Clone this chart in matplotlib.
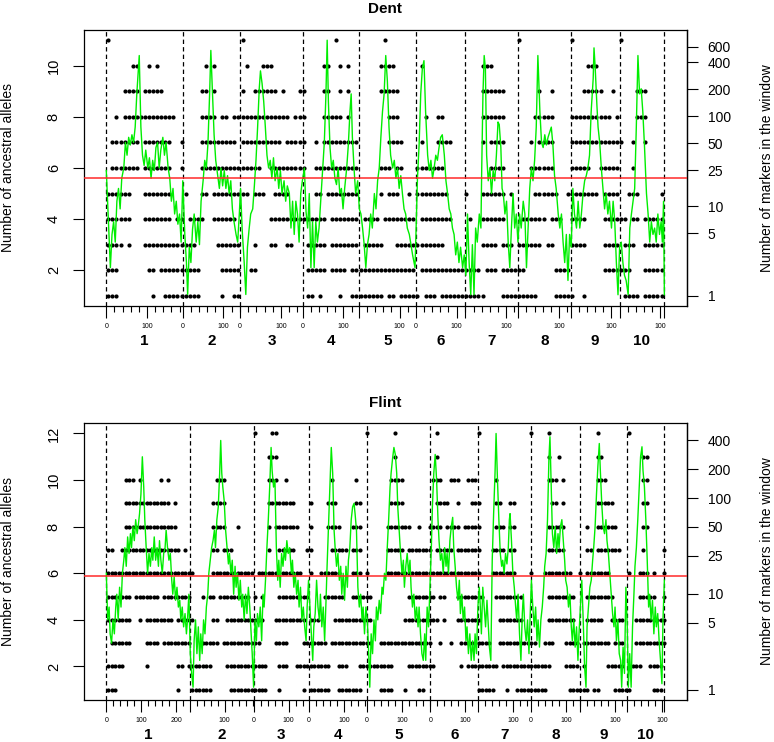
import numpy as np
import matplotlib
matplotlib.use('Agg')
from matplotlib import pyplot as plt

plt.rcParams['font.family'] = ['Liberation Sans', 'DejaVu Sans']

#--------------------------------------------------------------------------------------------------
# chromosome lengths (axis units), labels and thresholds
dent_chr_len  = [188, 141, 154, 138, 140, 122, 130, 129, 120, 110]
flint_chr_len = [238, 183, 158, 166, 181, 137, 151, 141, 133, 107]
dent_zero_labels  = [1, 2, 3, 4, 6]
flint_zero_labels = [1, 3, 4, 5, 6, 8]
dent_threshold  = 5.6
flint_threshold = 5.9
dent_max_markers  = 709
flint_max_markers = 473
dent_marker_ticks  = [1, 5, 10, 25, 50, 100, 200, 400, 600]
flint_marker_ticks = [1, 5, 10, 25, 50, 100, 200, 400]

# occupied 10-unit bins for each number of ancestral alleles (row 0 -> 1 allele)
dent_dot_rows = [
    "0-2 11 14-22 28 31-32 49-50 52 57 60-67 69-70 72-76 78-80 82-92 97-105 110-114 117 127-130 132-136",
    "0-2 10-11 13-22 28-32 35-36 49-53 55-58 60-75 77-91 93-95 97-102 110-113 122-128 132-136",
    "0-3 5 9-21 27-32 36 40-41 44-45 49-53 55-61 63-67 71-82 92-95 97-99 101-106 108-109 114-117 122-125 127-129 132-136",
    "0-5 9-15 17-18 20-23 26-31 40-53 55-61 63-66 68-75 77-84 89 92-97 102-107 109-111 114-117 122-127 129-130 132-136",
    "0-5 9-15 19 23-24 26-34 36-38 41-44 51-52 54-61 67 69-71 74 76-83 88 92-97 99 105-110 113-120 122-125 128-130 136",
    "1-7 9-15 18 23-37 40-48 51-61 67-69 71-72 76-82 94-97 104-109 114-118 121-125 129",
    "1-7 9-15 18 23-31 33-42 44-48 51 53-61 69-72 77 81-84 92 94-97 104 106-109 114-126 129 132",
    "2 4-16 23-26 28-29 31-44 46-48 53-57 59 69-71 78 81-82 92-97 105-109 114-123 125 130-132",
    "4-7 9-13 23-24 26 33 36-41 43 47-48 53-54 57 59 67-71 92-97 106 109 117-121 124 130-132",
    "6-7 10 12 24 26 34 38-40 53-54 57 59 67-70 77 92-94 118-120",
    "0 33 56 68 101 114 126",
]
flint_dot_rows = [
    "0-2 20 24-29 35-45 49 56 58-63 66-72 78-81 85 89-90 106-110 114 117-125 132-137 139-140 145-149 156-158",
    "0-4 11 20-21 23-29 34-45 49-51 54-63 66-68 72-81 86-93 101 103-111 113-126 131-134 136 143-147 150-152 155-158",
    "1-6 11-14 16-23 27-31 33-43 48-51 56-62 64-75 78-92 95 98 101-109 112-122 125-127 131-134 136-143 145-147 151-159",
    "0-6 9 11-18 20-24 30-31 34-44 48-56 58-60 65-75 85-94 96 100-106 112-118 126-133 137-141 144-147 151-159",
    "0-6 8-14 16-23 27 29-30 32-40 42 44 49-57 62-67 70-75 86-93 95-96 100-107 111-118 126-133 137-144 152-156 159",
    "0-24 30-41 43-55 58 61-66 70-72 74 80-106 110-116 121 125-132 135 137-143 149 152-154 156 159",
    "0-1 4-20 22 30-31 33-35 46 49-53 57-58 64-68 70-72 80-84 86-92 94-98 100-106 110-113 115-116 126-130 137-138 140-146 153 159",
    "5-19 30-33 37 46 48-54 58 63-66 70-72 80-86 89 92-95 97-100 102-106 111-113 115-116 126-130 137 140-145 153-154",
    "5-17 19 30-33 46-53 58 63-65 71-72 81-84 94-97 100 104-106 111-112 115-116 127-128 130 140-144 153-154",
    "5-7 9 15 17 31-33 46-48 51 64 71 81-84 93-95 98-100 103-105 111 126-128 130 140-142 153-154",
    "46-48 82 94 126 129 140-141 153-154",
    "42 47-48 74 82 94 106 121 126 140 149",
]

# sliding window mean of ancestral alleles (position, value)
dent_window = [
    (0,5.9),(6,3.6),(10,2.1),(14,3.4),(18,3.9),(22,3.1),(26,4.7),(30,5.2),(34,4.4),(38,5.6),
    (43,6.0),(47,7.0),(51,6.5),(55,7.2),(59,6.9),(63,7.3),(67,7.0),(71,7.6),(75,8.9),(81,10.4),
    (85,7.6),(89,6.5),(93,6.1),(97,6.7),(102,6.0),(106,6.4),(110,5.6),(114,6.3),(118,5.9),(122,6.8),
    (126,7.0),(130,6.0),(134,6.7),(139,7.2),(143,6.5),(147,7.0),(152,6.0),(156,5.6),(160,4.7),(164,5.2),
    (168,4.2),(172,4.7),(176,3.8),(180,4.2),(184,3.1),(188,5.5),(193,3.4),(197,2.3),(200,1.05),(204,2.9),
    (208,2.3),(212,3.6),(216,4.2),(221,3.1),(225,3.9),(229,3.0),(233,4.7),(238,5.5),(242,6.3),(246,6.0),
    (250,7.0),(254,8.9),(257,10.6),(261,8.9),(265,7.3),(269,6.3),(274,5.7),(278,5.2),(282,6.0),(286,5.3),
    (290,5.9),(294,5.2),(298,5.7),(302,5.0),(306,5.5),(310,4.4),(314,3.9),(319,3.4),(323,3.1),(327,4.2),
    (330,5.2),(334,3.6),(339,2.3),(343,1.05),(347,2.9),(351,3.6),(355,4.2),(360,4.4),(364,5.3),(368,6.3),
    (372,7.6),(376,9.1),(379,9.8),(383,9.3),(387,8.6),(391,7.6),(395,6.5),(399,6.0),(403,6.3),(407,5.6),
    (411,6.4),(415,5.5),(420,6.0),(424,5.2),(428,5.9),(432,5.0),(437,5.5),(441,4.7),(445,5.3),
    (450,5.0),(454,3.65),(458,4.7),(462,3.4),(466,4.7),(470,4.2),(474,3.1),(478,5.0),(482,5.5),(487,6.0),
    (491,4.3),(495,3.65),(499,5.0),(503,2.1),(507,3.9),(511,2.1),(515,3.9),(519,3.1),(523,3.65),(527,4.7),
    (532,6.0),(536,7.0),(540,8.9),(543,11.0),(546,8.6),(550,6.8),(554,6.0),(558,6.3),(562,5.6),(566,5.35),
    (570,6.0),(574,5.0),(578,5.2),(582,4.4),(586,5.2),(591,6.0),(595,6.9),(599,8.2),(602,8.9),(605,7.2),
    (609,6.0),(613,5.0),(618,5.5),(622,4.4),(626,4.2),(630,3.65),(634,3.0),(638,2.1),(642,3.0),(646,3.4),
    (650,4.2),(654,3.65),(659,5.0),(663,4.4),(667,5.5),(671,6.0),(675,7.2),(679,8.2),(683,8.9),(687,10.4),
    (691,9.4),(695,7.6),(699,6.5),(704,6.0),(708,6.3),(712,5.6),(716,6.0),(720,5.2),(724,5.7),(728,5.0),
    (732,4.4),(736,4.2),(740,3.65),(745,3.4),(749,3.0),(753,2.6),(759,2.1),(765,5.6),(769,6.9),(773,8.9),
    (777,9.9),(781,10.2),(785,8.2),(790,6.5),(794,5.9),(798,6.3),(802,5.6),(806,6.0),(810,6.5),(814,6.3),
    (818,6.8),(822,7.2),(826,7.3),(831,6.5),(835,5.5),(839,5.0),(843,4.4),(847,4.2),(851,3.65),(855,3.4),
    (859,2.6),(863,3.1),(867,2.3),(871,2.9),(876,2.1),(880,2.6),(884,1.8),(888,4.2),(892,2.3),(896,1.04),
    (900,3.0),(904,1.04),(908,3.65),(912,3.1),(917,4.2),(921,3.65),
    (923,6.0),(926,8.9),(929,10.4),(932,9.9),(935,6.5),(939,5.5),(943,6.0),(947,5.0),(951,5.9),(955,5.5),
    (959,6.5),(963,7.8),(966,7.7),(970,6.8),(973,5.2),(976,5.0),(980,4.2),(984,4.7),(988,3.1),(992,2.1),
    (996,3.65),(1000,5.0),(1004,3.65),(1008,4.2),(1012,3.1),(1016,4.2),(1020,3.65),(1025,4.7),(1029,4.2),(1033,2.1),
    (1037,3.65),(1041,5.2),(1045,6.0),(1049,5.5),(1053,6.3),(1057,7.6),(1061,10.4),(1066,8.2),(1070,7.0),(1074,6.8),
    (1078,7.3),(1082,6.9),(1086,7.2),(1090,7.4),(1094,7.6),(1098,6.9),(1102,5.7),(1106,5.2),(1111,4.2),(1115,3.65),
    (1119,4.2),(1123,3.1),(1127,2.3),(1131,3.4),(1135,1.6),(1139,3.4),(1143,2.9),(1147,5.2),(1151,4.2),(1156,3.65),
    (1160,4.7),(1164,3.65),(1168,4.2),(1172,5.0),(1176,5.5),(1180,5.7),(1184,6.0),(1188,6.5),(1192,8.2),(1197,9.5),
    (1199,10.7),(1202,9.9),(1206,8.5),(1209,7.6),(1213,7.0),(1217,6.0),(1221,5.2),(1225,4.4),(1229,5.0),(1233,4.2),
    (1237,4.7),(1242,3.65),(1246,4.7),(1250,3.9),(1254,2.3),(1258,1.04),(1262,2.9),(1266,3.1),(1270,2.3),(1274,1.8),
    (1278,1.6),(1283,1.04),(1287,3.65),(1291,4.2),(1295,4.7),(1299,5.2),(1303,7.6),(1307,10.4),(1311,8.9),(1315,9.1),
    (1319,8.2),(1323,6.9),(1328,5.0),(1332,4.2),(1336,3.1),(1340,3.9),(1344,3.4),(1348,3.65),(1352,3.1),(1356,4.2),
    (1360,3.4),(1364,3.9),(1367,3.1),(1370,4.7),(1372,1.04),
]
flint_window = [
    (0,6.0),(4,4.0),(8,4.55),(11,3.4),(15,3.0),(19,4.0),(23,3.4),(27,4.55),(30,5.1),(34,4.0),
    (38,5.4),(42,4.55),(46,6.0),(50,6.56),(53,7.1),(57,6.3),(61,7.56),(65,6.85),(69,7.7),(72,7.1),
    (76,8.0),(80,7.4),(84,8.3),(88,7.7),(91,8.0),(95,8.56),(99,9.4),(103,11.0),(107,9.7),(110,8.3),
    (114,7.1),(118,6.0),(122,6.85),(126,6.3),(130,7.1),(133,6.56),(137,7.56),(141,6.56),(145,7.1),(149,6.3),
    (152,7.4),(156,6.56),(160,6.0),(164,6.85),(168,7.1),(171,7.85),(175,7.1),(179,6.56),(183,6.85),(187,5.7),
    (190,5.1),(194,5.84),(198,4.84),(202,5.4),(206,4.55),(210,4.84),(213,4.0),(217,4.55),(221,3.7),(225,4.27),
    (229,3.4),(232,4.0),(236,5.1),(240,2.55),(244,1.7),(248,1.11),(251,3.1),(255,4.0),(259,2.55),(263,3.7),
    (267,2.26),(270,3.4),(274,2.55),(278,4.0),(282,3.4),(286,4.55),(290,5.1),(293,6.0),(297,6.56),(301,7.1),
    (305,7.4),(309,7.85),(312,7.1),(316,8.3),(320,8.85),(324,10.3),(327,11.7),(330,10.3),(333,9.7),(337,9.1),
    (341,7.85),(345,7.1),(349,6.4),(352,6.85),(356,6.0),(360,6.56),(364,5.1),(368,6.3),(371,5.4),(375,6.0),
    (379,4.84),(383,5.7),(387,4.55),(390,5.1),(394,4.0),(398,5.1),(402,4.27),(406,5.4),(410,4.55),(413,3.7),
    (417,2.55),(421,1.11),(425,4.0),(429,3.1),(432,4.27),(436,3.7),(440,4.55),(444,3.1),(448,5.1),(451,4.55),
    (455,5.7),(459,7.1),(463,8.3),(467,9.7),(471,11.4),(474,10.4),(478,9.7),(482,10.0),(486,7.1),(490,5.7),
    (493,6.56),(497,5.4),(501,6.85),(505,6.3),(509,7.1),(512,6.56),(516,7.4),(520,6.85),(524,7.1),
    (529,6.0),(532,6.56),(536,5.4),(540,6.0),(544,5.1),(548,5.7),(551,4.55),(555,5.4),(559,4.0),(563,4.55),
    (567,3.7),(571,3.1),(574,4.55),(578,5.7),(582,4.55),(586,3.4),(590,2.26),(593,3.7),(597,4.27),(601,5.7),
    (605,4.55),(609,4.0),(612,5.1),(616,3.7),(620,4.55),(624,3.1),(628,4.84),(631,6.3),(635,8.0),(639,9.7),
    (643,11.4),(647,10.3),(651,7.85),(654,7.1),(658,6.3),(662,6.85),(666,5.7),(670,6.3),(673,5.1),(677,6.0),
    (681,4.84),(685,6.3),(689,5.4),(692,6.56),(696,7.1),(700,8.3),(704,8.85),(708,9.0),(711,8.56),(715,7.85),
    (719,5.4),(723,4.55),(727,5.1),(731,4.0),(734,4.55),(738,3.4),(742,4.55),(746,4.0),(750,2.55),(753,1.11),
    (757,3.4),(761,2.55),(765,4.0),(769,3.1),(772,4.55),(776,4.0),(780,4.84),(784,4.27),(788,5.4),(791,5.1),
    (795,6.0),(799,5.7),(803,7.1),(807,8.3),(811,9.7),(814,10.3),(818,10.9),(822,11.4),(826,11.1),(830,10.3),
    (833,8.85),(837,7.85),(841,6.85),(845,6.0),(849,6.56),(852,5.4),(856,6.3),(860,6.85),(864,6.0),(868,6.56),
    (871,5.4),(875,4.55),(879,5.1),(883,4.0),(887,4.55),(891,3.7),(894,4.55),(898,3.4),(902,2.55),(906,2.26),
    (910,3.4),(913,2.26),(917,4.55),(921,3.7),(925,5.4),(929,7.1),(932,8.85),(936,10.3),(940,11.1),(944,10.0),
    (948,8.3),(951,7.4),(955,6.56),(959,6.85),(963,6.0),(967,7.1),(971,6.3),(974,6.85),(978,6.0),(982,7.4),
    (986,8.0),(990,8.4),(993,7.1),(997,6.3),(1001,5.4),(1005,4.84),(1009,5.7),(1012,4.27),(1016,5.1),(1020,4.0),
    (1024,4.55),(1028,3.1),(1031,3.7),(1035,2.55),(1039,3.4),(1043,2.26),(1047,3.1),(1051,2.26),(1054,3.4),(1058,2.55),
    (1062,4.55),(1066,5.4),
    (1069,4.55),(1072,3.4),(1076,5.4),(1080,4.55),(1084,3.7),(1088,4.84),(1091,4.0),(1095,2.83),(1099,2.26),(1103,6.56),
    (1107,8.56),(1111,10.3),(1114,12.0),(1118,10.0),(1122,8.3),(1126,6.85),(1130,6.3),(1133,6.56),(1137,6.0),(1141,6.85),
    (1145,6.4),(1149,7.1),(1152,8.3),(1154,8.56),(1158,7.4),(1162,6.0),(1166,5.4),(1170,4.55),(1173,4.0),(1177,5.1),
    (1181,3.4),(1185,2.26),(1189,4.27),(1192,5.1),(1196,3.7),(1200,3.1),(1204,4.0),(1208,2.55),(1211,4.0),(1215,5.7),
    (1219,4.55),(1223,3.7),(1227,4.55),(1231,3.1),(1234,4.0),(1238,2.83),(1242,4.0),(1246,4.55),(1250,5.4),(1253,6.3),
    (1257,6.85),(1261,8.3),(1265,10.9),(1268,11.86),(1271,10.0),(1275,7.7),(1279,7.1),(1283,8.0),(1287,6.85),(1291,7.7),
    (1294,7.1),(1298,8.0),(1302,8.3),(1306,7.4),(1310,6.56),(1313,5.7),(1317,5.4),(1321,4.55),(1325,5.1),(1329,3.7),
    (1332,3.1),(1336,4.0),(1340,2.83),(1344,3.7),(1348,2.26),(1351,3.4),(1355,4.55),(1359,5.7),(1363,4.0),(1367,2.0),
    (1371,1.11),(1374,3.7),(1378,4.55),(1382,5.4),(1386,5.7),(1390,6.56),(1393,7.1),(1397,8.0),(1401,9.4),(1405,10.6),
    (1409,11.57),(1412,10.4),(1416,9.0),(1420,8.0),(1424,7.7),(1428,8.3),(1431,7.4),(1435,6.85),(1439,6.0),(1443,5.1),
    (1447,4.27),(1451,3.7),(1454,4.55),(1458,3.1),(1462,4.0),(1466,2.55),(1470,2.26),(1473,1.11),(1477,2.83),(1481,1.7),
    (1485,5.4),(1489,3.7),(1492,1.11),(1496,2.55),(1500,1.11),(1504,3.7),(1508,5.1),(1511,6.3),(1515,7.1),(1519,8.3),
    (1523,9.7),(1527,11.0),(1531,11.43),(1534,10.4),(1538,9.7),(1542,8.3),(1546,6.56),(1550,4.55),(1553,5.1),(1557,4.0),
    (1561,4.84),(1565,3.4),(1569,4.55),(1572,3.7),(1576,4.27),(1580,3.1),(1584,2.26),(1588,1.26),(1591,4.0),(1595,5.7),
]
#--------------------------------------------------------------------------------------------------

def parse_bins(row):
    bins = []
    for tok in row.split():
        if '-' in tok:
            a, b = tok.split('-')
            bins.extend(range(int(a), int(b) + 1))
        else:
            bins.append(int(tok))
    return np.array(bins)

#--------------------------------------------------------------------------------------------------
def draw_panel(ax, title, chr_len, zero_labels, dot_rows, window, threshold, max_markers, marker_ticks):
    starts = np.concatenate([[0], np.cumsum(chr_len)])
    total = starts[-1]
    nlev = len(dot_rows)

    # markers: one dot per occupied bin
    for lev, row in enumerate(dot_rows, start=1):
        xs = parse_bins(row) * 10 + 5
        ax.plot(xs, np.full(len(xs), lev), 'o', color='black', ms=3.0, mew=0, zorder=2)

    for s in starts:
        ax.axvline(s, color='black', lw=0.9, ls=(0, (3.5, 2.5)), zorder=3)

    wx, wy = zip(*window)
    ax.plot(wx, wy, color='#00ee00', lw=1.0, zorder=4)
    ax.axhline(threshold, color='#ff2a2a', lw=1.1, zorder=5)

    ax.set_xlim(-0.04 * total, 1.04 * total)
    ax.set_ylim(1 - 0.04 * (nlev - 1), nlev + 0.04 * (nlev - 1))

    # x axis: per-chromosome positions
    major, labels, minor = [], [], []
    for i, (s, L) in enumerate(zip(starts[:-1], chr_len)):
        for v in range(0, L + 1, 100):
            major.append(s + v)
            labels.append(str(v) if (v > 0 or (i + 1) in zero_labels) else '')
        minor += [s + v for v in range(20, L + 1, 20) if v % 100]
    major.append(total)
    labels.append('')
    ax.set_xticks(major)
    ax.set_xticklabels(labels, fontsize=5)
    ax.set_xticks(minor, minor=True)
    ax.tick_params(axis='x', which='major', length=8.6, width=0.8, pad=3.5)
    ax.tick_params(axis='x', which='minor', length=4.5, width=0.8)

    for i, (s, L) in enumerate(zip(starts[:-1], chr_len)):
        ax.annotate(str(i + 1), xy=(s + L / 2, 0), xycoords=('data', 'axes fraction'),
                    xytext=(0, -25), textcoords='offset points', ha='center', va='center',
                    fontsize=11, fontweight='bold')

    # left axis
    ax.set_yticks(range(2, nlev + 1, 2))
    ax.tick_params(axis='y', length=7.7, width=0.8, pad=9, labelsize=10.5)
    for lab in ax.get_yticklabels():
        lab.set_rotation(90)
        lab.set_va('center')
    ax.set_ylabel('Number of ancestral alleles', fontsize=10)
    ax.yaxis.set_label_coords(-0.114, 0.5)

    # right axis: markers per window on log scale
    def lev2mark(L):
        return max_markers ** ((np.asarray(L) - 1) / (nlev - 1))

    def mark2lev(v):
        return 1 + (nlev - 1) * np.log(np.maximum(v, 1e-9)) / np.log(max_markers)

    sec = ax.secondary_yaxis('right', functions=(lev2mark, mark2lev))
    sec.set_yticks(marker_ticks)
    sec.set_yticklabels([str(t) for t in marker_ticks])
    sec.minorticks_off()
    sec.tick_params(axis='y', length=8, width=0.8, pad=7, labelsize=10)
    for sp in sec.spines.values():
        sp.set_linewidth(0.9)
    ax.text(1.133, 0.5, 'Number of markers in the window', transform=ax.transAxes,
            rotation=90, ha='center', va='center', fontsize=10)

    for sp in ax.spines.values():
        sp.set_linewidth(0.9)
    ax.set_title(title, fontsize=11, fontweight='bold', pad=12)
#--------------------------------------------------------------------------------------------------

def main():
    fig = plt.figure(figsize=(7.74, 7.42), dpi=100)
    ax1 = fig.add_axes([0.1085, 0.5876, 0.7787, 0.372])
    ax2 = fig.add_axes([0.1085, 0.0566, 0.7787, 0.373])

    draw_panel(ax1, 'Dent', dent_chr_len, dent_zero_labels, dent_dot_rows, dent_window,
               dent_threshold, dent_max_markers, dent_marker_ticks)
    draw_panel(ax2, 'Flint', flint_chr_len, flint_zero_labels, flint_dot_rows, flint_window,
               flint_threshold, flint_max_markers, flint_marker_ticks)

    fig.savefig('out.png', dpi=100)

if __name__ == '__main__':
    main()
